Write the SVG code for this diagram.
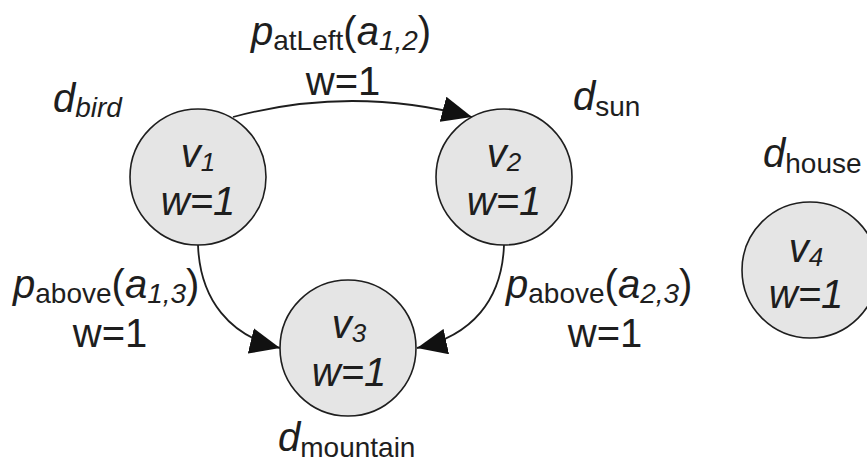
<svg xmlns="http://www.w3.org/2000/svg" width="867" height="464" viewBox="0 0 867 464">
<style>
text{font-family:"Liberation Sans",Arial,sans-serif;fill:#1e1e1e}
.node circle{fill:#e5e5e5;stroke:#1e1e1e;stroke-width:1.6}
.nt{font-size:40px;font-style:italic;text-anchor:middle}
.ns{font-size:26px}
.lbl{font-size:40px}
.sub{font-size:28px}
.it{font-style:italic}
.w{font-size:40px;text-anchor:middle}
.edge{fill:none;stroke:#1e1e1e;stroke-width:1.8}
</style>
<defs>
<marker id="arr" markerUnits="userSpaceOnUse" markerWidth="32" markerHeight="26" refX="30" refY="13" orient="auto" viewBox="0 0 32 26">
<path d="M0,0 L30,13 L0,26 Z" fill="#111"/>
</marker>
</defs>
<g id="edges">
<path class="edge" d="M233,117 Q352,85 472,117" marker-end="url(#arr)"/>
<path class="edge" d="M198,245 C200,300 230,336 280,348" marker-end="url(#arr)"/>
<path class="edge" d="M504,245 C502,300 472,336 417,348" marker-end="url(#arr)"/>
</g>
<g id="v1" class="node">
<circle cx="198" cy="177" r="68"/>
<text class="nt" x="198" y="167">v<tspan class="ns" dy="4">1</tspan></text>
<text class="nt" x="198" y="215">w=1</text>
</g>
<g id="v2" class="node">
<circle cx="504" cy="177" r="68"/>
<text class="nt" x="504" y="167">v<tspan class="ns" dy="4">2</tspan></text>
<text class="nt" x="504" y="215">w=1</text>
</g>
<g id="v3" class="node">
<circle cx="348" cy="348" r="68"/>
<text class="nt" x="349" y="338">v<tspan class="ns" dy="4">3</tspan></text>
<text class="nt" x="349" y="386">w=1</text>
</g>
<g id="v4" class="node">
<circle cx="810" cy="270" r="68"/>
<text class="nt" x="806" y="262">v<tspan class="ns" dy="4">4</tspan></text>
<text class="nt" x="806" y="308">w=1</text>
</g>
<g id="labels">
<text class="lbl" x="53" y="112"><tspan class="it">d</tspan><tspan class="sub it" dy="5">bird</tspan></text>
<text class="lbl" x="573" y="110"><tspan class="it">d</tspan><tspan class="sub" dy="6">sun</tspan></text>
<text class="lbl" x="763" y="167"><tspan class="it">d</tspan><tspan class="sub" dy="6">house</tspan></text>
<text class="lbl" x="278" y="451"><tspan class="it">d</tspan><tspan class="sub" dy="6">mountain</tspan></text>
<text class="lbl" x="251" y="45"><tspan class="it">p</tspan><tspan class="sub" dy="5">atLeft</tspan><tspan dy="-5">(</tspan><tspan class="it">a</tspan><tspan class="sub it" dy="5">1,2</tspan><tspan dy="-5">)</tspan></text>
<text class="w" x="343" y="95">w=1</text>
<text class="lbl" x="13" y="298"><tspan class="it">p</tspan><tspan class="sub" dy="5">above</tspan><tspan dy="-5">(</tspan><tspan class="it">a</tspan><tspan class="sub it" dy="5">1,3</tspan><tspan dy="-5">)</tspan></text>
<text class="w" x="110" y="347">w=1</text>
<text class="lbl" x="506" y="298"><tspan class="it">p</tspan><tspan class="sub" dy="5">above</tspan><tspan dy="-5">(</tspan><tspan class="it">a</tspan><tspan class="sub it" dy="5">2,3</tspan><tspan dy="-5">)</tspan></text>
<text class="w" x="605" y="347">w=1</text>
</g>
</svg>
